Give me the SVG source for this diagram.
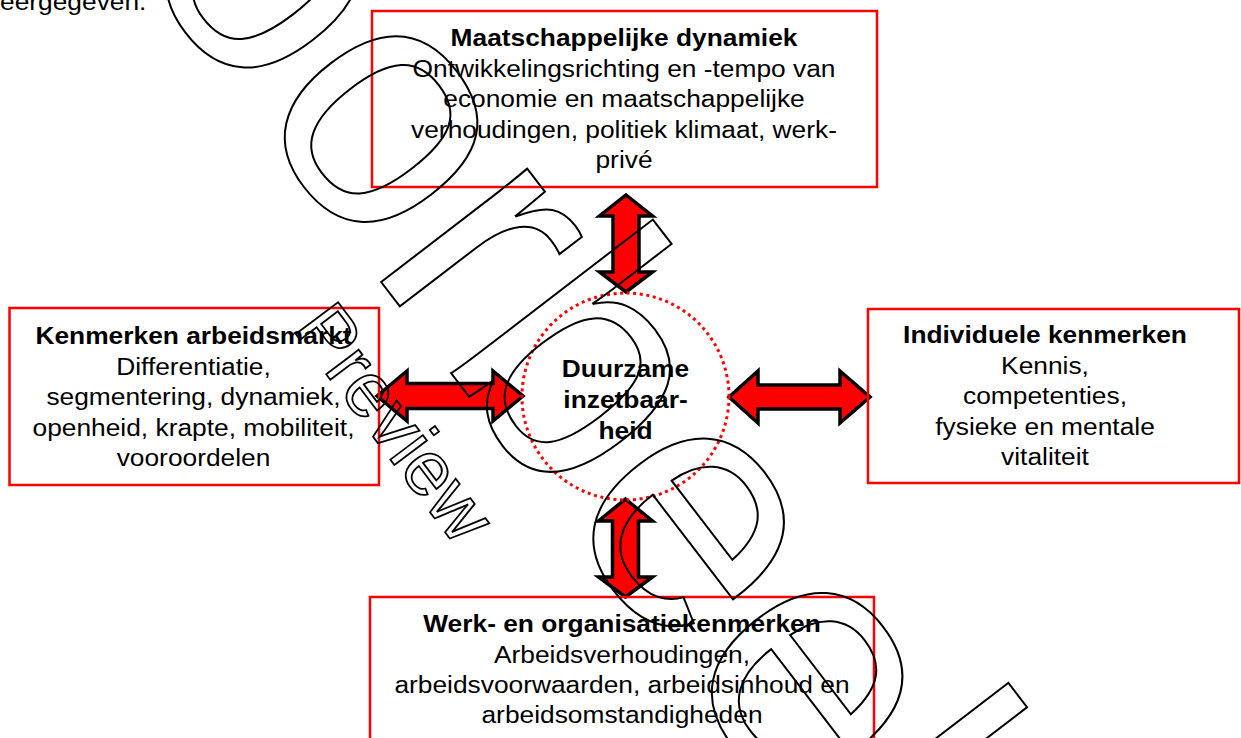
<svg xmlns="http://www.w3.org/2000/svg" width="1241" height="738" viewBox="0 0 1241 738">
<style>
.box{fill:none;stroke:#ff0000;stroke-width:2.5}
.t{font-family:"Liberation Sans",Arial,Helvetica,sans-serif;font-size:23px;fill:#000}
.b{font-weight:bold}
.arr{fill:#ff0000;stroke:#000;stroke-width:3.5;stroke-linejoin:miter}
.core{fill:none;stroke:#ff0000;stroke-width:3;stroke-dasharray:3 3.6}
.wm{font-family:"Liberation Sans",Arial,Helvetica,sans-serif;fill:none;stroke:#000}
</style>
<rect width="1241" height="738" fill="#fff"/>

<g id="fragment" class="t"><text transform="scale(1.145,1)" x="0" y="10">eergegeven.</text></g>

<g id="connectors">
<polygon class="arr" points="377,396 407,371 407,383.5 493,383.5 493,371 523,396 493,421 493,408.5 407,408.5 407,421"/>
<polygon class="arr" points="729,397 758,371 758,385 840,385 840,371 870,397 840,423 840,409 758,409 758,423"/>
<polygon class="arr" points="626,195 652.5,216 639,216 639,272 652.5,272 626,292 599.5,272 613,272 613,216 599.5,216"/>
<polygon class="arr" points="625.5,499 652.5,521 638.5,521 638.5,577 652.5,577 625.5,597 598.5,577 612.5,577 612.5,521 598.5,521"/>
</g>

<g id="node-top">
<rect class="box" x="372" y="11" width="505" height="176"/>
<g class="t" text-anchor="middle" transform="translate(624,0) scale(1.145,1)">
<text class="b" x="0" y="46">Maatschappelijke dynamiek</text>
<text x="0" y="77">Ontwikkelingsrichting en -tempo van</text>
<text x="0" y="107.5">economie en maatschappelijke</text>
<text x="0" y="138">verhoudingen, politiek klimaat, werk-</text>
<text x="0" y="168">privé</text>
</g>
</g>

<g id="node-left">
<rect class="box" x="9.5" y="308" width="369.5" height="177"/>
<g class="t" text-anchor="middle" transform="translate(193.5,0) scale(1.145,1)">
<text class="b" x="0" y="344">Kenmerken arbeidsmarkt</text>
<text x="0" y="375">Differentiatie,</text>
<text x="0" y="405.5">segmentering, dynamiek,</text>
<text x="0" y="436">openheid, krapte, mobiliteit,</text>
<text x="0" y="466.5">vooroordelen</text>
</g>
</g>

<g id="node-right">
<rect class="box" x="868" y="309" width="371" height="174"/>
<g class="t" text-anchor="middle" transform="translate(1045,0) scale(1.145,1)">
<text class="b" x="0" y="343">Individuele kenmerken</text>
<text x="0" y="374">Kennis,</text>
<text x="0" y="404.5">competenties,</text>
<text x="0" y="435">fysieke en mentale</text>
<text x="0" y="465.5">vitaliteit</text>
</g>
</g>

<g id="node-bottom">
<rect class="box" x="370" y="597" width="504" height="160"/>
<g class="t" text-anchor="middle" transform="translate(622,0) scale(1.145,1)">
<text class="b" x="0" y="632">Werk- en organisatiekenmerken</text>
<text x="0" y="663">Arbeidsverhoudingen,</text>
<text x="0" y="693">arbeidsvoorwaarden, arbeidsinhoud en</text>
<text x="0" y="723.5">arbeidsomstandigheden</text>
</g>
</g>

<g id="node-center">
<circle class="core" cx="625.5" cy="396.5" r="103.5"/>
<g class="t b" text-anchor="middle" transform="translate(625.5,0) scale(1.145,1)">
<text x="0" y="377">Duurzame</text>
<text x="0" y="408">inzetbaar-</text>
<text x="0" y="439">heid</text>
</g>
</g>

<g id="watermark">
<text class="wm" font-size="350" stroke-width="2" transform="translate(-1,-216) rotate(52.5)" x="0" y="0">Voorbeeld</text>
<text class="wm" font-size="77" stroke-width="1.8" transform="translate(292,329) rotate(53)" x="0" y="0">Preview</text>
</g>
</svg>
